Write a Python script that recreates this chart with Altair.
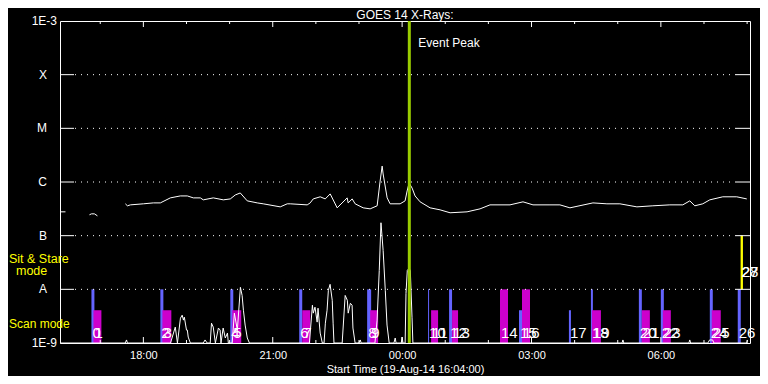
import altair as alt
import pandas as pd

# ---------------- time axis: hours relative to 00:00 (20-Aug-14); start 16:04 ----------------
t_start, t_end = -7.933, 8.067
hour_ticks = list(range(-7, 9))
major_hours = [-6, -3, 0, 3, 6]
major_labels = ["18:00", "21:00", "00:00", "03:00", "06:00"]

# ---------------- flux levels ----------------
level_values = [1e-3, 1e-4, 1e-5, 1e-6, 1e-7, 1e-8, 1e-9]
level_labels = ["1E-3", "X", "M", "C", "B", "A", "1E-9"]
grid_levels = [1e-4, 1e-5, 1e-6, 1e-7, 1e-8]

# ---------------- GOES long channel (upper curve), three segments ----------------
long_seg1_t = [-7.922, -7.806]
long_seg1_f = [2.78e-7, 2.78e-7]
long_seg2_t = [-7.250, -7.204, -7.135, -7.065]
long_seg2_f = [2.45e-7, 2.55e-7, 2.55e-7, 2.34e-7]
long_seg3_t = [-6.417, -6.370, -6.300, -6.000, -5.768, -5.606, -5.374, -5.143, -4.980, -4.841,
               -4.679, -4.610, -4.378, -4.146, -3.984, -3.868, -3.753, -3.591, -3.359, -3.220,
               -2.826, -2.664, -2.594, -2.201, -2.131, -2.061, -1.899, -1.783, -1.668, -1.506,
               -1.274, -1.251, -1.158, -1.089, -0.903, -0.741, -0.579, -0.510, -0.463, -0.440,
               -0.347, -0.278, -0.046, 0.069, 0.116, 0.162, 0.232, 0.301, 0.417, 0.649,
               0.880, 1.112, 1.506, 1.807, 2.038, 2.502, 2.803, 3.035, 3.429, 3.660,
               3.892, 4.425, 4.749, 5.050, 5.444, 5.814, 6.208, 6.509, 6.671, 6.787,
               6.972, 7.135, 7.436, 7.760, 7.992]
long_seg3_f = [3.92e-7, 3.6e-7, 3.75e-7, 3.92e-7, 4.08e-7, 4.08e-7, 5.06e-7, 5.5e-7, 5.5e-7, 5.06e-7,
               5.06e-7, 4.65e-7, 5.06e-7, 4.65e-7, 4.84e-7, 5.74e-7, 6.25e-7, 4.45e-7, 4.08e-7, 3.92e-7,
               3.44e-7, 3.92e-7, 3.92e-7, 3.75e-7, 4.08e-7, 4.84e-7, 5.3e-7, 4.84e-7, 6.0e-7, 3.3e-7,
               5.06e-7, 4.08e-7, 4.84e-7, 3.92e-7, 3.3e-7, 3.16e-7, 3.6e-7, 1.04e-6, 1.98e-6, 1.41e-6,
               5.06e-7, 3.92e-7, 3.92e-7, 4.45e-7, 6.8e-7, 9.6e-7, 7.7e-7, 5.5e-7, 4.27e-7, 3.3e-7,
               3.03e-7, 2.67e-7, 2.78e-7, 3.16e-7, 3.75e-7, 3.75e-7, 4.27e-7, 3.75e-7, 3.75e-7, 3.75e-7,
               3.3e-7, 4.08e-7, 3.92e-7, 3.92e-7, 3.44e-7, 3.6e-7, 3.75e-7, 3.75e-7, 4.45e-7, 3.6e-7,
               3.92e-7, 4.65e-7, 5.3e-7, 5.3e-7, 4.84e-7]

# ---------------- GOES short channel (lower spiky curve) ----------------
short_t = [-7.933, -6.42, -6.39, -6.37,
           -5.37, -5.26, -5.21, -5.14, -5.10, -5.07, -5.05, -5.00, -4.98, -4.96, -4.91,
           -4.61, -4.57, -4.52, -4.45, -4.42, -4.38, -4.33, -4.26, -4.22, -4.20, -4.15, -4.10, -4.05, -4.03,
           -3.94, -3.89, -3.82, -3.75, -3.71, -3.68, -3.64, -3.59, -3.54,
           -2.15, -2.08, -2.06, -2.02, -1.97, -1.95, -1.90, -1.85, -1.81, -1.78, -1.74, -1.71, -1.67, -1.62, -1.60, -1.58,
           -1.39, -1.32, -1.27, -1.25, -1.20, -1.16, -1.14, -1.09,
           -1.00, -0.97, -0.95,
           -0.63, -0.58, -0.53, -0.49, -0.44, -0.39, -0.35, -0.30,
           -0.19, -0.16, -0.14, -0.02, 0.00, 0.02,
           0.07, 0.09, 0.12, 0.16, 0.19, 0.23, 0.25,
           5.10, 5.12, 5.14, 6.65, 6.67, 6.69, 7.09, 7.13, 7.20, 7.23, 7.99, 8.01]
short_f = [1e-9, 1e-9, 1.14e-9, 1e-9,
           1e-9, 1.98e-9, 1e-9, 2.9e-9, 3.3e-9, 2.67e-9, 3.03e-9, 1.74e-9, 1.74e-9, 1.29e-9, 1e-9,
           1e-9, 1.14e-9, 1e-9, 1e-9, 2.34e-9, 1.98e-9, 1e-9, 1.9e-9, 1.74e-9, 1e-9, 1.9e-9, 1.24e-9, 1.53e-9, 1e-9,
           1e-9, 3.6e-9, 1.74e-9, 1.09e-8, 7.7e-9, 4.08e-9, 2.16e-9, 1.24e-9, 1e-9,
           1e-9, 5.06e-9, 3.6e-9, 4.65e-9, 2.45e-9, 4.45e-9, 1.53e-9, 1e-9, 1e-9, 2.34e-9, 4.08e-9, 9.6e-9, 1.24e-8, 6.25e-9, 2.34e-9, 1e-9,
           1e-9, 7.7e-9, 6.25e-9, 3.6e-9, 5.5e-9, 5.06e-9, 1.9e-9, 1e-9,
           1e-9, 1.14e-9, 1e-9,
           1e-9, 2.67e-9, 2.25e-8, 1.74e-7, 5.3e-8, 9.6e-9, 2.16e-9, 1e-9,
           1e-9, 1.24e-9, 1e-9, 1e-9, 1.29e-9, 1e-9,
           1e-9, 8.4e-9, 2.25e-8, 2.45e-8, 2.25e-8, 3.03e-9, 1e-9,
           1e-9, 1.14e-9, 1e-9, 1e-9, 1.14e-9, 1e-9, 1e-9, 1.14e-9, 1.14e-9, 1e-9, 1e-9, 1.14e-9]

# ---------------- observation bars ----------------
obs_num = [str(i) for i in range(29)]
obs_kind = ["blue", "magenta", "blue", "magenta", "blue", "magenta", "blue", "magenta",
            "blue", "magenta", "blue", "magenta", "blue", "magenta", "magenta", "blue",
            "magenta", "blue", "blue", "magenta", "blue", "magenta", "blue", "magenta",
            "blue", "magenta", "blue", "yellow", "yellow"]
obs_start = [-7.204, -7.158, -5.606, -5.559, -3.984, -3.938, -2.386, -2.316, -0.811, -0.741,
             0.602, 0.672, 1.089, 1.158, 2.270, 2.710, 2.780, 3.868, 4.378, 4.401,
             5.490, 5.559, 5.999, 6.046, 7.135, 7.181, 7.783, 7.853, 7.853]
obs_end = [-7.135, -6.973, -5.536, -5.351, -3.915, -3.730, -2.316, -2.131, -0.718, -0.556,
           0.625, 0.834, 1.158, 1.297, 2.455, 2.780, 2.965, 3.915, 4.424, 4.610,
           5.559, 5.745, 6.069, 6.231, 7.204, 7.389, 7.853, 7.899, 7.899]
obs_lo = [1e-9] * 27 + [1e-8, 1e-8]
obs_hi = [1e-8, 4.08e-9, 1e-8, 4.08e-9, 1e-8, 4.08e-9, 1e-8, 4.08e-9, 1e-8, 4.08e-9,
          1e-8, 4.08e-9, 1e-8, 4.08e-9, 1e-8, 4.08e-9, 1e-8, 4.08e-9, 1e-8, 4.08e-9,
          1e-8, 4.08e-9, 1e-8, 4.08e-9, 1e-8, 4.08e-9, 1e-8, 1e-7, 1e-7]
obs_label_y = [1.53e-9] * 27 + [2.07e-8, 2.07e-8]

event_time = 0.167
event_label = "Event Peak"

# ---------------- tables ----------------
long_df = pd.DataFrame({
    "t": long_seg1_t + long_seg2_t + long_seg3_t,
    "flux": long_seg1_f + long_seg2_f + long_seg3_f,
    "seg": [1] * len(long_seg1_t) + [2] * len(long_seg2_t) + [3] * len(long_seg3_t),
})
short_df = pd.DataFrame({"t": short_t, "flux": short_f})
obs_df = pd.DataFrame({"num": obs_num, "kind": obs_kind, "start": obs_start, "end": obs_end,
                       "lo": obs_lo, "hi": obs_hi, "ly": obs_label_y})
lev_df = pd.DataFrame({"lev": level_values, "lab": level_labels})
grid_df = pd.DataFrame({"lev": grid_levels})
major_df = pd.DataFrame({"t": major_hours})
minor_df = pd.DataFrame({"t": [h for h in hour_ticks if h not in major_hours]})
event_df = pd.DataFrame({"t": [event_time], "lab": [event_label]})

W, H = 690, 322
FONT = "Liberation Sans"

label_expr = " : ".join(
    [f"datum.value == {h} ? '{l}'" for h, l in zip(major_hours, major_labels)]) + " : ''"

xs = alt.Scale(domain=[t_start, t_end], nice=False, zero=False)
ys = alt.Scale(type="log", domain=[1e-9, 1e-3], nice=False, clamp=True)
x_axis = alt.Axis(
    values=major_hours, labelExpr=label_expr, ticks=False, tickSize=0, domain=False, grid=False,
    labelColor="white", labelFont=FONT, labelFontSize=11, labelPadding=6,
    title="Start Time (19-Aug-14 16:04:00)", titleColor="white", titleFont=FONT,
    titleFontSize=11, titleFontWeight="normal", titlePadding=3)
X = lambda f: alt.X(f, scale=xs, axis=x_axis)
Y = lambda f: alt.Y(f, scale=ys, axis=None)

grid = alt.Chart(grid_df).mark_rule(color="white", strokeWidth=1, strokeDash=[1, 5]).encode(
    y=Y("lev:Q"), x=alt.value(15), x2=alt.value(W - 14))
yt_left = alt.Chart(grid_df).mark_rule(color="white", strokeWidth=1).encode(
    y=Y("lev:Q"), x=alt.value(0), x2=alt.value(14))
yt_right = alt.Chart(grid_df).mark_rule(color="white", strokeWidth=1).encode(
    y=Y("lev:Q"), x=alt.value(W - 14), x2=alt.value(W))
xt_top_major = alt.Chart(major_df).mark_rule(color="white").encode(
    x=X("t:Q"), y=alt.value(0), y2=alt.value(6))
xt_top_minor = alt.Chart(minor_df).mark_rule(color="white").encode(
    x=X("t:Q"), y=alt.value(0), y2=alt.value(3))
xt_bot_major = alt.Chart(major_df).mark_rule(color="white").encode(
    x=X("t:Q"), y=alt.value(H - 6), y2=alt.value(H))
xt_bot_minor = alt.Chart(minor_df).mark_rule(color="white").encode(
    x=X("t:Q"), y=alt.value(H - 3), y2=alt.value(H))

bars = alt.Chart(obs_df).mark_rect().encode(
    x=X("start:Q"), x2="end:Q",
    y=Y("lo:Q"), y2="hi:Q",
    color=alt.Color("kind:N", legend=None, scale=alt.Scale(
        domain=["blue", "magenta", "yellow"], range=["#6464ff", "#cc00cc", "#ffff00"])),
)

long_line = alt.Chart(long_df).mark_line(color="white", strokeWidth=1).encode(
    x=X("t:Q"), y=Y("flux:Q"), detail="seg:N")
short_line = alt.Chart(short_df).mark_line(color="white", strokeWidth=1).encode(
    x=X("t:Q"), y=Y("flux:Q"))

event_rule = alt.Chart(event_df).mark_rule(color="#99cc00", strokeWidth=3).encode(
    x=X("t:Q"), y=alt.value(0), y2=alt.value(H))
event_text = alt.Chart(event_df).mark_text(
    align="left", baseline="middle", dx=9, color="white", font=FONT, fontSize=12).encode(
    x=X("t:Q"), y=alt.value(22), text="lab:N")

obs_text = alt.Chart(obs_df).mark_text(
    align="left", baseline="middle", dx=1, color="white", font=FONT, fontSize=15).encode(
    x=X("start:Q"), y=Y("ly:Q"), text="num:N")

num_lab = alt.Chart(lev_df).transform_filter(
    "datum.lab == '1E-3' || datum.lab == '1E-9'").mark_text(
    align="right", baseline="middle", color="white", font=FONT, fontSize=12).encode(
    y=Y("lev:Q"), x=alt.value(-3), text="lab:N")
let_lab = alt.Chart(lev_df).transform_filter(
    "datum.lab != '1E-3' && datum.lab != '1E-9'").mark_text(
    align="right", baseline="middle", color="white", font=FONT, fontSize=12).encode(
    y=Y("lev:Q"), x=alt.value(-13), text="lab:N")

title_txt = alt.Chart(event_df).mark_text(
    text="GOES 14 X-Rays:", align="center", baseline="alphabetic", color="white",
    font=FONT, fontSize=12).encode(x=alt.value(W / 2), y=alt.value(-2))
sit1 = alt.Chart(event_df).mark_text(
    text="Sit & Stare", align="left", baseline="middle", color="#ffff00",
    font=FONT, fontSize=12.5).encode(x=alt.value(-51), y=alt.value(238))
sit2 = alt.Chart(event_df).mark_text(
    text="mode", align="left", baseline="middle", color="#ffff00",
    font=FONT, fontSize=12.5).encode(x=alt.value(-44), y=alt.value(250))
scan = alt.Chart(event_df).mark_text(
    text="Scan mode", align="left", baseline="middle", color="#ffff00",
    font=FONT, fontSize=12).encode(x=alt.value(-51), y=alt.value(303))

chart = alt.layer(
    bars, grid, yt_left, yt_right, xt_top_major, xt_top_minor, xt_bot_major, xt_bot_minor,
    long_line, short_line, event_rule, event_text, obs_text, num_lab, let_lab,
    title_txt, sit1, sit2, scan,
).properties(
    width=W, height=H,
    autosize=alt.AutoSizeParams(type="none"),
    padding={"left": 52, "top": 13, "right": 10, "bottom": 33},
    background="black",
).configure_view(stroke="white", strokeWidth=1)

chart.save("out.html", embed_options={"renderer": "svg", "actions": False})
